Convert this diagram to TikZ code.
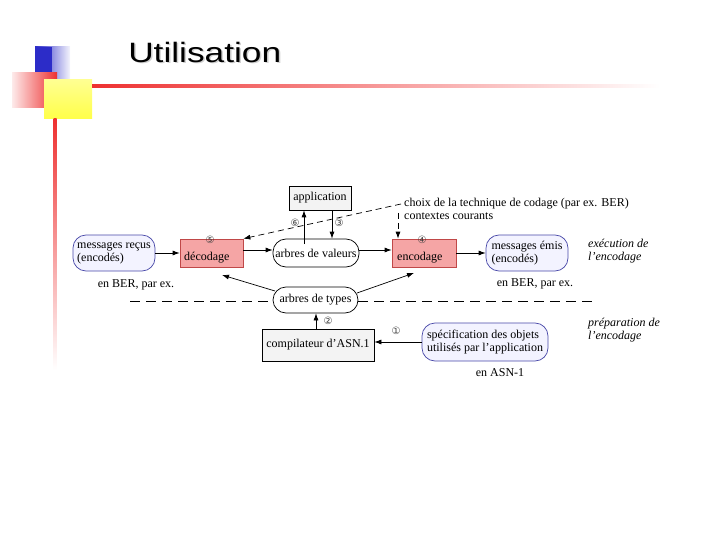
\documentclass[tikz,border=0pt]{standalone}
\usepackage{fontspec}
\setmainfont{Liberation Serif}
\newfontfamily\titlefont{Liberation Sans}
\newfontfamily\circfont{DejaVu Sans}
\usetikzlibrary{arrows.meta,shadings}
\definecolor{pinkfill}{HTML}{F5A5A5}
\definecolor{pinkdraw}{HTML}{C04848}
\definecolor{bluefill}{HTML}{F3F3FF}
\definecolor{bluedraw}{HTML}{4848A8}
\definecolor{grayfill}{HTML}{F3F3F3}
\definecolor{decoblue}{HTML}{2C2CC8}
\definecolor{decored}{HTML}{EE3030}
\definecolor{decoyellow}{HTML}{FFFF48}
\tikzset{
  txt/.style={font=\fontsize{12}{13}\selectfont},
  sqbox/.style={draw, txt, inner sep=0pt, line width=0.7pt},
  grbox/.style={sqbox, fill=grayfill},
  pkbox/.style={sqbox, fill=pinkfill, draw=pinkdraw},
  pill/.style={sqbox, rounded corners=13pt},
  bpill/.style={pill, fill=bluefill, draw=bluedraw, align=left},
  num/.style={font=\circfont\fontsize{10}{10}\selectfont, text=black!75, inner sep=0pt},
  conn/.style={-{Latex[length=7pt,width=5pt]}, line width=0.7pt},
  dconn/.style={conn, dash pattern=on 6pt off 4pt},
  itxt/.style={font=\fontsize{12}{13}\selectfont\itshape, align=left, inner sep=0pt, anchor=north west}
}
\begin{document}
\begin{tikzpicture}[x=1pt,y=-1pt]
\useasboundingbox (0,0) rectangle (720,540);
% decoration
\shade[left color=decoblue, right color=decoblue!5] (35,47) rectangle (70,80);
\fill[decoblue] (35,47) rectangle (52,80);
\shade[left color=decored!10, right color=decored] (12,73) rectangle (57,108);
\shade[top color=decoyellow!60, bottom color=decoyellow] (44,80) rectangle (92,119);
\shade[left color=decored, right color=white] (92,84.5) rectangle (660,87.5);
\shade[top color=decored, bottom color=white] (53.5,119) rectangle (56.5,370);
% title
\node[font=\titlefont\fontsize{28}{30}\selectfont, text=black!18, anchor=west, inner sep=0pt, xscale=1.26] (shadow) at (129.5,53.5) {Utilisation};
\node[font=\titlefont\fontsize{28}{30}\selectfont, anchor=west, inner sep=0pt, xscale=1.26] (title) at (128,52) {Utilisation};
% nodes
\node[grbox, minimum width=62pt, minimum height=24pt] (app) at (320,198) {application};
\node[bpill, minimum width=82pt, minimum height=36pt] (mr) at (114,253) {messages reçus\\(encodés)};
\node[pkbox, minimum width=63pt, minimum height=28pt] (dec) at (211.5,253) {};
\node[txt, anchor=base west, inner sep=0pt] (dect) at (184,260) {décodage};
\node[pill, fill=white, minimum width=86pt, minimum height=28pt] (av) at (316,253) {arbres de valeurs};
\node[pkbox, minimum width=64pt, minimum height=28pt] (enc) at (424,253) {};
\node[txt, anchor=base west, inner sep=0pt] (enct) at (397,260) {encodage};
\node[bpill, minimum width=82pt, minimum height=36pt] (me) at (527,253) {messages émis\\(encodés)};
\node[pill, fill=white, minimum width=85pt, minimum height=26pt] (at) at (315.5,300) {arbres de types};
\node[grbox, minimum width=112pt, minimum height=32pt] (comp) at (318,345) {compilateur d’ASN.1};
\node[bpill, minimum width=126pt, minimum height=38pt] (spec) at (485,342) {spécification des objets\\utilisés par l’application};
% numbers
\node[num] (n5) at (210,240) {⑤};
\node[num] (n4) at (422,240) {④};
\node[num] (n6) at (295,223) {⑥};
\node[num] (n3) at (339,223) {③};
\node[num] (n2) at (328,321) {②};
\node[num] (n1) at (396,331) {①};
% labels
\node[txt, inner sep=0pt] (ber1) at (136,285) {en BER, par ex.};
\node[txt, inner sep=0pt] (ber2) at (535,284) {en BER, par ex.};
\node[txt, inner sep=0pt] (asn) at (500,373) {en ASN-1};
\node[txt, anchor=north west, inner sep=0pt, align=left] (choix) at (404,198) {choix de la technique de codage (par ex. BER)\\contextes courants};
\node[itxt] (exec) at (588,239) {exécution de\\l’encodage};
\node[itxt] (prep) at (588,318) {préparation de\\l’encodage};
% connectors
\draw[conn] (mr.east) -- (dec.west);
\draw[conn] (dec.east |- 0,250) -- (av.west |- 0,250);
\draw[conn] (av.east |- 0,250) -- (enc.west |- 0,250);
\draw[conn] (enc.east) -- (me.west);
\draw[conn] (304,244) -- (app.south -| 304,0);
\draw[conn] (app.south -| 332,0) -- (av.north -| 332,0);
\draw[conn] (comp.north -| 316,0) -- (at.south -| 316,0);
\draw[conn] (spec.west) -- (comp.east |- spec.west);
\coordinate (atl) at (275,291);
\coordinate (atr) at (357,293);
\coordinate (dectip) at (222,275);
\coordinate (enctip) at (414,273);
\draw[conn] (atl) -- (dectip);
\draw[conn] (atr) -- (enctip);
\coordinate (cs) at (401,204);
\coordinate (cv) at (398,213);
\draw[dconn] (cs) -- (dec.north east);
\draw[dconn] (cv) -- (enc.north west -| 398,0);
\draw[line width=0.7pt, dash pattern=on 10pt off 6pt] (130,301) -- (at.west |- 0,301);
\draw[line width=0.7pt, dash pattern=on 10pt off 6pt] (at.east |- 0,301) -- (595,301);
\end{tikzpicture}
\end{document}
